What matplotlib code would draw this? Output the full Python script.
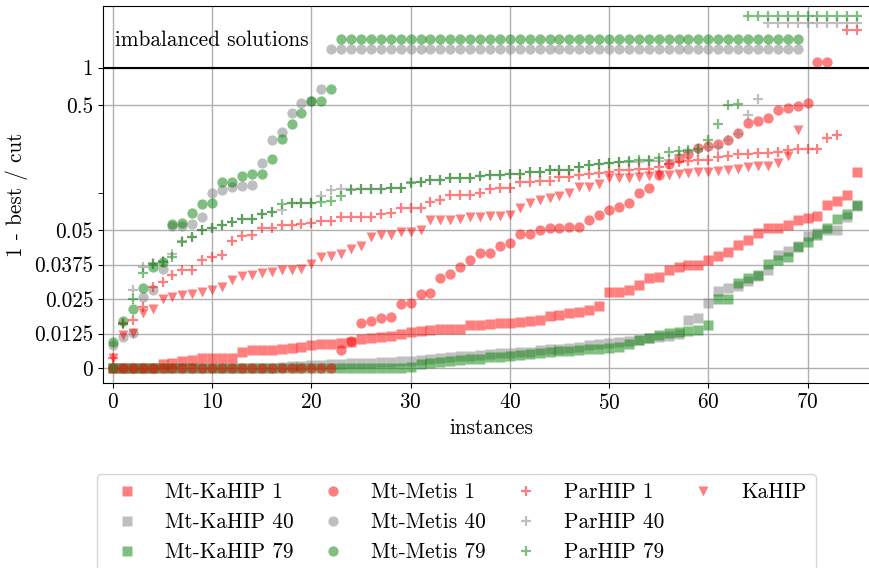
import numpy as np
import matplotlib.pyplot as plt
from matplotlib.lines import Line2D
from matplotlib.ticker import FixedLocator, NullFormatter

plt.rcParams['font.family'] = ['cmr10', 'DejaVu Serif']
plt.rcParams['mathtext.fontset'] = 'cm'
plt.rcParams['axes.unicode_minus'] = False
plt.rcParams['axes.formatter.use_mathtext'] = True
plt.rcParams['font.size'] = 15.3

# ---- data: sorted 1 - best/cut per instance, imbalanced runs listed separately ----
kahip_mt1 = [0, 0, 0, 0, 0, 0.00145, 0.0019, 0.0025, 0.0031, 0.0035,
             0.0037, 0.0037, 0.0037, 0.0059, 0.0064, 0.0065, 0.0066, 0.0069, 0.0074, 0.0077,
             0.0082, 0.0086, 0.0088, 0.0092, 0.0095, 0.0104, 0.0108, 0.0113, 0.0116, 0.0123,
             0.0131, 0.0133, 0.0138, 0.0140, 0.0141, 0.0141, 0.0155, 0.0157, 0.0160, 0.0162,
             0.0164, 0.0168, 0.0171, 0.0176, 0.0188, 0.0191, 0.0198, 0.0204, 0.0210, 0.0224,
             0.0276, 0.0276, 0.0282, 0.0303, 0.0325, 0.0331, 0.0357, 0.0367, 0.0373, 0.0373,
             0.0391, 0.0405, 0.0421, 0.0446, 0.0466, 0.0490, 0.0516, 0.0525, 0.0554, 0.0601,
             0.0627, 0.0647, 0.0793, 0.0858, 0.0952, 0.145]
kahip_mt40 = [0, 0, 0, 0, 0, 0, 0, 0, 0, 0,
              0, 0, 0, 0, 0, 0, 0, 0.0005, 0.0007, 0.0009,
              0.0010, 0.0012, 0.0014, 0.0016, 0.0018, 0.0020, 0.0020, 0.0021, 0.0022, 0.0024,
              0.0027, 0.0030, 0.0034, 0.0037, 0.0040, 0.0043, 0.0045, 0.0046, 0.0050, 0.0053,
              0.0055, 0.0058, 0.0060, 0.0065, 0.0068, 0.0071, 0.0074, 0.0078, 0.0082, 0.0086,
              0.0092, 0.0096, 0.0098, 0.0101, 0.0108, 0.0113, 0.0118, 0.0124, 0.0176, 0.0180,
              0.0236, 0.0279, 0.0290, 0.0297, 0.0315, 0.0333, 0.0357, 0.0410, 0.0424, 0.0442,
              0.0478, 0.0490, 0.0506, 0.0506, 0.0640, 0.0780]
kahip_mt79 = [0, 0, 0, 0, 0, 0, 0, 0, 0, 0,
              0, 0, 0, 0, 0, 0, 0, 0, 0, 0,
              0, 0, 0, 0, 0, 0, 0, 0, 0, 0,
              0.0003, 0.0014, 0.0020, 0.0023, 0.0026, 0.0029, 0.0032, 0.0033, 0.0039, 0.0040,
              0.0043, 0.0046, 0.0050, 0.0055, 0.0057, 0.0062, 0.0063, 0.0065, 0.0068, 0.0070,
              0.0074, 0.0077, 0.0088, 0.0102, 0.0110, 0.0120, 0.0126, 0.0130, 0.0136, 0.0139,
              0.0155, 0.0252, 0.0252, 0.0307, 0.0325, 0.0337, 0.0379, 0.0391, 0.0403, 0.0439,
              0.0457, 0.0482, 0.0516, 0.0620, 0.0680, 0.0790]

metis_mt1 = [0, 0, 0, 0, 0, 0, 0, 0, 0, 0,
             0, 0, 0, 0, 0, 0, 0, 0, 0, 0,
             0, 0, 0, 0.0065, 0.0099, 0.0165, 0.0171, 0.0180, 0.0184, 0.0234,
             0.0236, 0.0270, 0.0274, 0.0328, 0.0340, 0.0367, 0.0391, 0.0417, 0.0417, 0.0442,
             0.0454, 0.0488, 0.0488, 0.0500, 0.0516, 0.0516, 0.0531, 0.0531, 0.0601, 0.0659,
             0.0723, 0.0768, 0.0827, 0.0994, 0.1098, 0.1377, 0.1687, 0.1908, 0.2054, 0.2293,
             0.235, 0.2438, 0.2658, 0.300, 0.361, 0.3745, 0.399, 0.456, 0.479, 0.491,
             0.522]
metis_mt1_imb = [71, 72]
metis_mt40 = [0.0083, 0.0113, 0.0128, 0.0258, 0.0282, 0.0361, 0.0538, 0.0538, 0.0565, 0.0632,
              0.0994, 0.1045, 0.111, 0.112, 0.1146, 0.171, 0.266, 0.306, 0.434, 0.525,
              0.541, 0.671]
metis_mt40_imb = list(range(22, 70))
metis_mt79 = [0.0093, 0.0172, 0.0214, 0.0289, 0.0367, 0.0385, 0.0565, 0.0572, 0.0688, 0.0807,
              0.0827, 0.1217, 0.1217, 0.135, 0.142, 0.142, 0.185, 0.267, 0.357, 0.437,
              0.541, 0.541, 0.675]
metis_mt79_imb = list(range(23, 70))

parhip1 = [0.0036, 0.0162, 0.0174, 0.0222, 0.0294, 0.0312, 0.0337, 0.0357, 0.0357, 0.0393,
           0.0403, 0.0411, 0.0460, 0.0478, 0.0482, 0.0516, 0.0522, 0.0548, 0.0548, 0.0565,
           0.0576, 0.0590, 0.0590, 0.0632, 0.0632, 0.0638, 0.0638, 0.0680, 0.0688, 0.0746,
           0.0759, 0.0759, 0.0842, 0.0879, 0.0952, 0.0952, 0.0952, 0.0984, 0.1077, 0.1098,
           0.1098, 0.1217, 0.1225, 0.1240, 0.1240, 0.1321, 0.1339, 0.1377, 0.1405, 0.1438,
           0.146, 0.1513, 0.1513, 0.1557, 0.1557, 0.1606, 0.1687, 0.1762, 0.1784, 0.1818,
           0.184, 0.1924, 0.1959, 0.2022, 0.2046, 0.2084, 0.2084, 0.2112, 0.221, 0.2253,
           0.2253, 0.2253, 0.2754, 0.2873]
parhip1_imb = [74, 75]
parhip40 = [0, 0.0165, 0.0282, 0.0365, 0.0380, 0.0390, 0.0415, 0.0460, 0.0476, 0.0506,
            0.0516, 0.0548, 0.0582, 0.0620, 0.0620, 0.0671, 0.0701, 0.0723, 0.0818, 0.0827,
            0.0827, 0.0935, 0.1045, 0.106, 0.106, 0.106, 0.106, 0.106, 0.1098, 0.1098,
            0.1217, 0.1217, 0.1259, 0.1259, 0.130, 0.130, 0.130, 0.135, 0.1377, 0.1377,
            0.142, 0.142, 0.146, 0.146, 0.1529, 0.1529, 0.1529, 0.1606, 0.1659, 0.1703,
            0.1723, 0.1762, 0.176, 0.176, 0.178, 0.180, 0.184, 0.200, 0.210, 0.215,
            0.233, 0.233, 0.2658, 0.2941, 0.416, 0.564]
parhip40_imb = list(range(66, 76))
parhip79 = [0, 0.0160, 0.0252, 0.0343, 0.0376, 0.0385, 0.0401, 0.0458, 0.0476, 0.0506,
            0.0516, 0.0548, 0.0582, 0.0620, 0.0620, 0.0671, 0.0701, 0.0807, 0.0818, 0.0827,
            0.0827, 0.0842, 0.0858, 0.0945, 0.1045, 0.106, 0.106, 0.106, 0.1098, 0.1098,
            0.1185, 0.1217, 0.1259, 0.1259, 0.130, 0.130, 0.130, 0.135, 0.1377, 0.1377,
            0.142, 0.142, 0.146, 0.146, 0.1529, 0.1529, 0.1529, 0.1606, 0.1659, 0.1703,
            0.1723, 0.1762, 0.179, 0.184, 0.184, 0.1876, 0.2112, 0.2147, 0.221, 0.2253,
            0.2623, 0.3523, 0.500, 0.5153]
parhip79_imb = list(range(64, 76))

kahip = [0.0035, 0.0119, 0.0128, 0.0200, 0.0216, 0.0249, 0.0256, 0.0264, 0.0270, 0.0276,
         0.0282, 0.0294, 0.0321, 0.0333, 0.0337, 0.0345, 0.0349, 0.0355, 0.0355, 0.0361,
         0.0376, 0.0401, 0.0405, 0.0412, 0.0430, 0.0442, 0.0474, 0.0482, 0.0482, 0.0494,
         0.0494, 0.0500, 0.0601, 0.0601, 0.0601, 0.0620, 0.0638, 0.0638, 0.0647, 0.0647,
         0.0659, 0.0759, 0.0818, 0.0869, 0.0913, 0.0935, 0.0994, 0.111, 0.1115, 0.1167,
         0.130, 0.130, 0.130, 0.1321, 0.135, 0.1377, 0.1377, 0.142, 0.1438, 0.146,
         0.146, 0.148, 0.1529, 0.155, 0.1588, 0.163, 0.163, 0.1723, 0.1954, 0.315]

# rows used to show imbalanced solutions above 1
imb_row = {'metis1': 1.088, 'metis40': 1.298, 'metis79': 1.465,
           'parhip1': 1.611, 'parhip40': 1.729, 'parhip79': 1.843}

# ---- y scale: linear up to 0.05, log up to 1, linear band above ----
LIN = 0.05
A = 1.104
K = 0.4936
F1 = A + np.log10(1 / LIN)


def fwd(v):
    v = np.asarray(v, dtype=float)
    lin = v / LIN * A
    lg = A + np.log10(np.clip(v, LIN, 1.0) / LIN)
    top = F1 + (v - 1.0) * K
    return np.where(v <= LIN, lin, np.where(v <= 1.0, lg, top))


def inv(y):
    y = np.asarray(y, dtype=float)
    lin = y / A * LIN
    lg = LIN * 10 ** (np.clip(y, A, F1) - A)
    top = 1.0 + (y - F1) / K
    return np.where(y <= A, lin, np.where(y <= F1, lg, top))


red, grey, green = '#ff0000', '#808080', '#008000'
AL = 0.5

fig = plt.figure(figsize=(8.69, 5.68), dpi=100)
ax = fig.add_axes([103 / 869, (568 - 383) / 568, 777 / 869, 377 / 568])
ax.set_yscale('function', functions=(fwd, inv))


def pts(vals, mk, col, label, ms, imb=None, row=None, **kw):
    x = np.arange(len(vals))
    y = np.array(vals, dtype=float)
    if imb:
        x = np.concatenate([x, imb])
        y = np.concatenate([y, np.full(len(imb), row)])
    return ax.plot(x, y, mk, color=col, alpha=AL, ms=ms, ls='none', label=label, **kw)[0]


sq = dict(mec='none')
h = []
h.append(pts(kahip_mt1, 's', red, 'Mt-KaHIP 1', 6.8, **sq))
h.append(pts(kahip_mt40, 's', grey, 'Mt-KaHIP 40', 6.8, **sq))
h.append(pts(kahip_mt79, 's', green, 'Mt-KaHIP 79', 6.8, **sq))
h.append(pts(metis_mt1, 'o', red, 'Mt-Metis 1', 7.4, metis_mt1_imb, imb_row['metis1'], **sq))
h.append(pts(metis_mt40, 'o', grey, 'Mt-Metis 40', 7.4, metis_mt40_imb, imb_row['metis40'], **sq))
h.append(pts(metis_mt79, 'o', green, 'Mt-Metis 79', 7.4, metis_mt79_imb, imb_row['metis79'], **sq))
h.append(pts(parhip1, '+', red, 'ParHIP 1', 7.5, parhip1_imb, imb_row['parhip1'], mew=1.6))
h.append(pts(parhip40, '+', grey, 'ParHIP 40', 7.5, parhip40_imb, imb_row['parhip40'], mew=1.6))
h.append(pts(parhip79, '+', green, 'ParHIP 79', 7.5, parhip79_imb, imb_row['parhip79'], mew=1.6))
h.append(pts(kahip, 'v', red, 'KaHIP', 7.8, **sq))

ax.axhline(1.0, color='black', lw=1.5, zorder=3)
ax.text(0.2, 1.44, 'imbalanced solutions', ha='left', va='center')

ax.set_xlim(-1, 77.3)
ax.set_ylim(-0.0054, 2.0)
ax.set_xticks(range(0, 80, 10))
ax.set_yticks([0, 0.0125, 0.025, 0.0375, 0.05, 0.5, 1])
ax.set_yticklabels(['0', '0.0125', '0.025', '0.0375', '0.05', '0.5', '1'])
ax.yaxis.set_minor_locator(FixedLocator([0.1]))
ax.yaxis.set_minor_formatter(NullFormatter())
ax.xaxis.set_minor_locator(FixedLocator([]))
ax.tick_params(which='minor', length=3.5)
ax.grid(True, which='major', color='#b0b0b0', lw=1.0)
ax.set_axisbelow(True)
ax.set_xlabel('instances')
ax.set_ylabel('1 - best / cut')

# two empty slots so the last column holds only KaHIP
blank = Line2D([], [], ls='none', marker='none')
handles = h + [blank, blank]
labels = [l.get_label() for l in h] + ['', '']
fig.legend(handles, labels, loc='upper left', bbox_to_anchor=(97 / 869, 1 - 474 / 568),
           borderaxespad=0, ncol=4, columnspacing=0.85, labelspacing=0.5,
           handlelength=2.0, handletextpad=0.8)

fig.savefig('out.png', dpi=100)
print('Saved out.png')
